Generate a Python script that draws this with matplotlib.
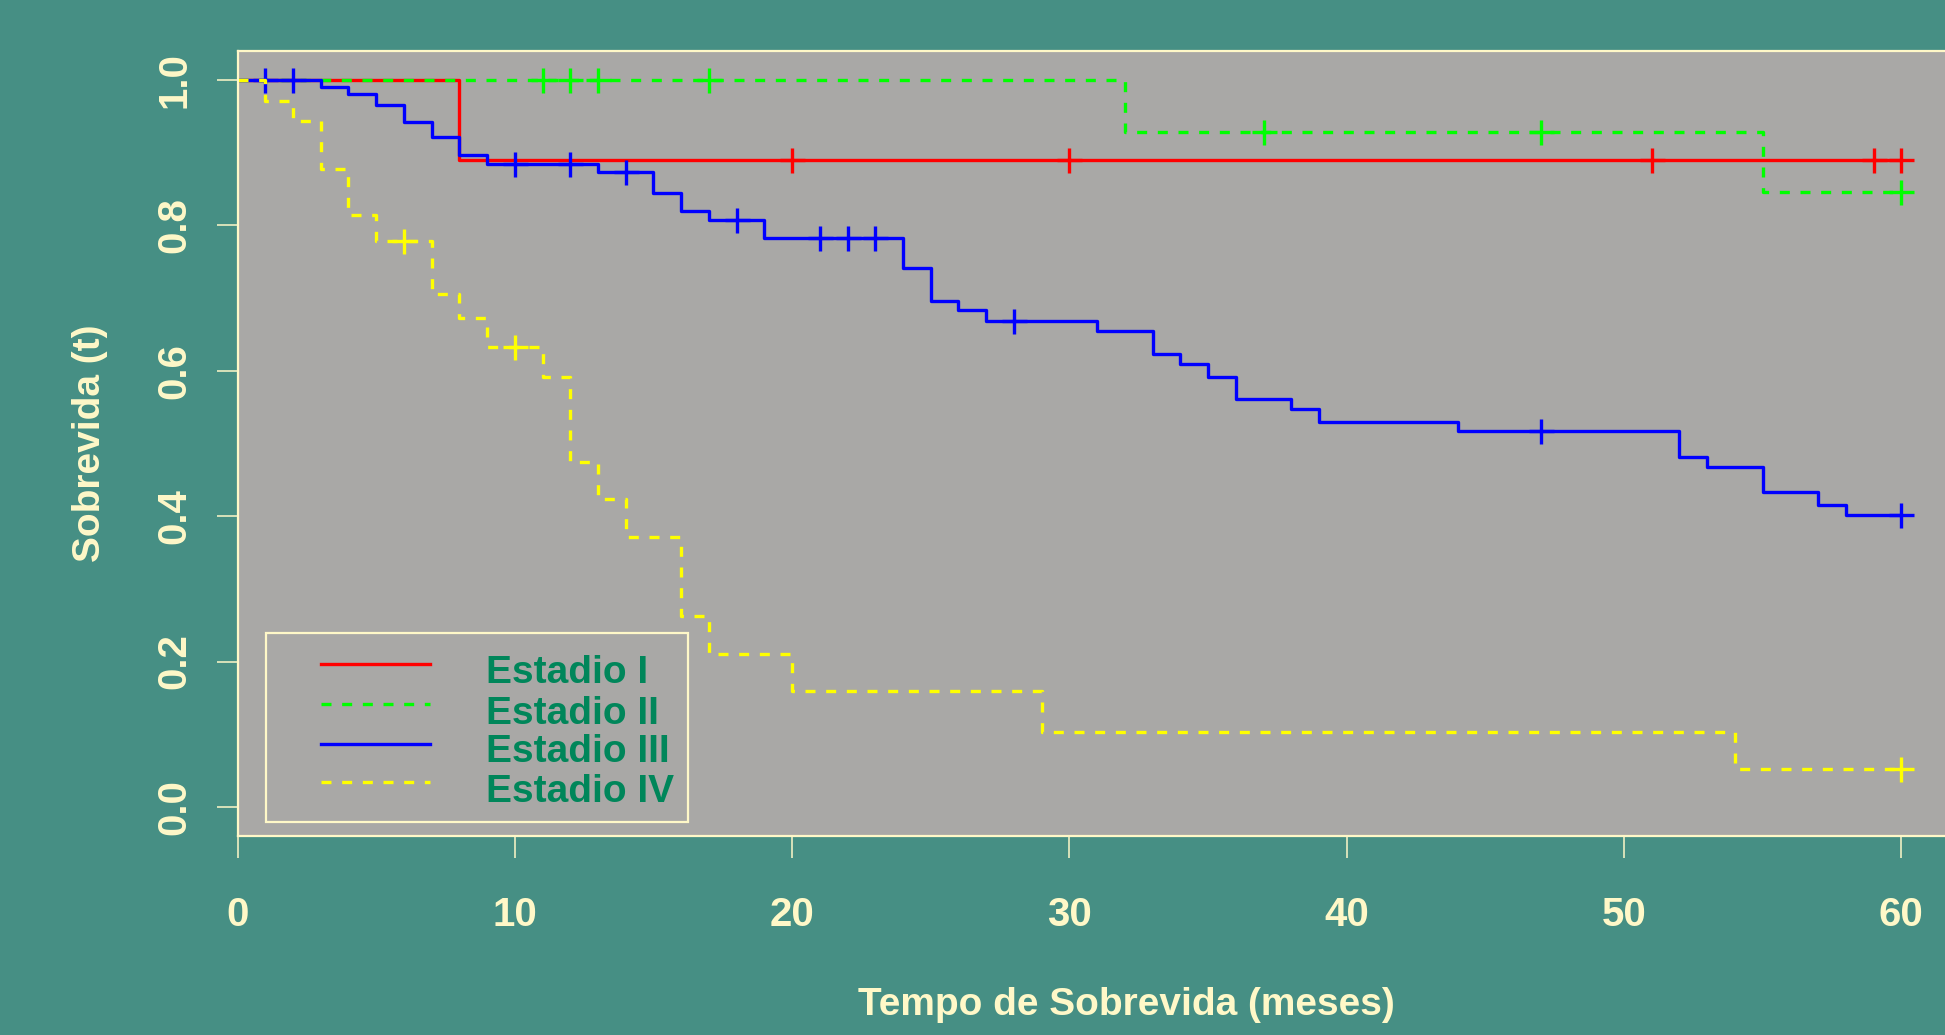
import numpy as np
import matplotlib
matplotlib.use("Agg")
import matplotlib.pyplot as plt
from matplotlib.patches import Rectangle
from matplotlib.lines import Line2D

# curvas de Kaplan-Meier por estadio: tempos das quedas e sobrevida apos cada queda
grupos = ["Estadio I", "Estadio II", "Estadio III", "Estadio IV"]

t_est1 = [0, 8, 60]
s_est1 = [1.0, 0.890, 0.890]
c_est1 = [20, 30, 51, 59, 60]

t_est2 = [0, 32, 55, 60]
s_est2 = [1.0, 0.929, 0.846, 0.846]
c_est2 = [11, 12, 13, 17, 37, 47, 60]

t_est3 = [0, 3, 4, 5, 6, 7, 8, 9, 13, 15, 16, 17, 19, 24, 25, 26, 27, 31,
          33, 34, 35, 36, 38, 39, 44, 52, 53, 55, 57, 58, 60]
s_est3 = [1.0, 0.990, 0.981, 0.966, 0.942, 0.921, 0.897, 0.884, 0.873, 0.845,
          0.820, 0.807, 0.783, 0.741, 0.696, 0.683, 0.669, 0.655, 0.623, 0.609,
          0.592, 0.561, 0.547, 0.530, 0.517, 0.482, 0.468, 0.433, 0.416, 0.402,
          0.402]
c_est3 = [1, 2, 10, 12, 14, 18, 21, 22, 23, 28, 47, 60]

t_est4 = [0, 1, 2, 3, 4, 5, 7, 8, 9, 11, 12, 13, 14, 16, 17, 20, 29, 54, 60]
s_est4 = [1.0, 0.971, 0.943, 0.877, 0.814, 0.779, 0.706, 0.672, 0.633, 0.592,
          0.475, 0.423, 0.371, 0.262, 0.211, 0.160, 0.103, 0.052, 0.052]
c_est4 = [6, 10, 60]

x_ticks = [0, 10, 20, 30, 40, 50, 60]
y_ticks = [0.0, 0.2, 0.4, 0.6, 0.8, 1.0]

fundo = "#468f84"
painel = "#a9a8a6"
creme = "#fff8c8"
verde_leg = "#00865a"
tracejado = (0, (3.0, 3.2))
estilos = [("#ff0000", "-"), ("#00ff00", tracejado),
           ("#0000ff", "-"), ("#ffff00", tracejado)]

plt.rcParams["font.family"] = ["Liberation Sans", "DejaVu Sans"]
plt.rcParams["font.weight"] = "bold"

fig = plt.figure(figsize=(19.45, 10.35), dpi=100, facecolor=fundo)
ax = fig.add_axes([237.5 / 1945, 1 - 836 / 1035, 1777.5 / 1945, 785.1 / 1035])
ax.set_facecolor(painel)

curvas = [(t_est1, s_est1, c_est1), (t_est2, s_est2, c_est2),
          (t_est3, s_est3, c_est3), (t_est4, s_est4, c_est4)]

for (t, s, cens), (cor, ls) in zip(curvas, estilos):
    ax.step(t, s, where="post", color=cor, linestyle=ls, lw=2.4,
            dash_capstyle="butt", solid_capstyle="butt")
    # marca de censura na altura da curva naquele tempo
    idx = np.searchsorted(t, cens, side="right") - 1
    ax.plot(cens, np.array(s)[idx], linestyle="none", marker="+",
            markersize=18, mew=2.4, color=cor)

ax.set_xlim(0, 64.1)
ax.set_ylim(-0.04, 1.04)
ax.set_xticks(x_ticks)
ax.set_yticks(y_ticks)
ax.set_xticklabels([str(v) for v in x_ticks])
ax.set_yticklabels(["%.1f" % v for v in y_ticks], rotation=90, va="center")

for lado in ["left", "bottom", "top", "right"]:
    ax.spines[lado].set_color(creme)
    ax.spines[lado].set_linewidth(1.6)

ax.tick_params(axis="x", colors=creme, length=16, width=1.1, pad=27,
               labelsize=29)
ax.tick_params(axis="y", colors=creme, length=15, width=1.1, pad=17,
               labelsize=29)

ax.set_xlabel("Tempo de Sobrevida (meses)", color=creme, fontsize=28,
              fontweight="bold")
ax.set_ylabel("Sobrevida (t)", color=creme, fontsize=28, fontweight="bold")
ax.xaxis.set_label_coords(0.5, -0.192)
ax.yaxis.set_label_coords(-0.0728, 0.5)

# legenda desenhada em coordenadas dos eixos
ax.add_patch(Rectangle((0.0158, 0.0175), 0.2376, 0.2411, transform=ax.transAxes,
                       facecolor=painel, edgecolor=creme, lw=1.6, zorder=5))
linhas_y = [0.2191, 0.1681, 0.1172, 0.0684]
base_y = [0.1945, 0.1427, 0.0947, 0.0430]
for nome, (cor, ls), ly, by in zip(grupos, estilos, linhas_y, base_y):
    ax.add_line(Line2D([0.0471, 0.1083], [ly, ly], transform=ax.transAxes,
                       color=cor, linestyle=ls, lw=2.4, dash_capstyle="butt",
                       zorder=6))
    ax.text(0.1400, by, nome, transform=ax.transAxes, color=verde_leg,
            fontsize=28, fontweight="bold", va="baseline", ha="left", zorder=6)

fig.savefig("out.png", dpi=100, facecolor=fundo)
